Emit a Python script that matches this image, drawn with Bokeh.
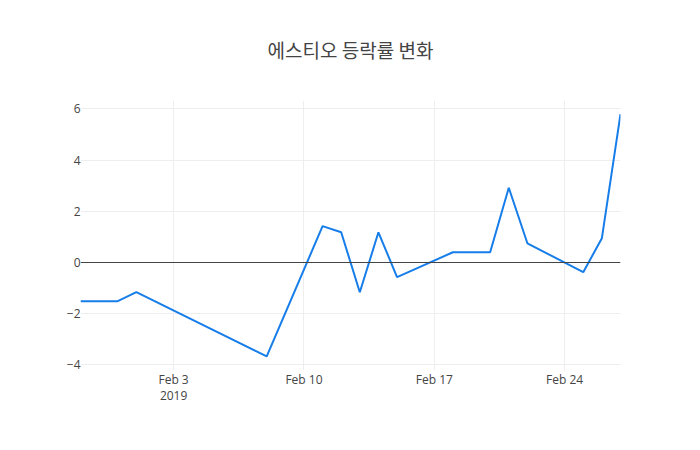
from datetime import datetime
from bokeh.models import FixedTicker, Span, Range1d
from bokeh.plotting import figure
from bokeh.embed import file_html
from bokeh.resources import INLINE

# 에스티오 daily change (%)
dates = ["2019-01-29", "2019-01-31", "2019-02-01", "2019-02-08", "2019-02-11",
         "2019-02-12", "2019-02-13", "2019-02-14", "2019-02-15", "2019-02-18",
         "2019-02-20", "2019-02-21", "2019-02-22", "2019-02-25", "2019-02-26",
         "2019-02-27"]
change = [-1.51, -1.51, -1.16, -3.67, 1.42, 1.18, -1.16, 1.18, -0.57, 0.40,
          0.40, 2.92, 0.75, -0.38, 0.95, 5.80]
x_ticks = ["2019-02-03", "2019-02-10", "2019-02-17", "2019-02-24"]
x_labels = ["Feb 3\n2019", "Feb 10", "Feb 17", "Feb 24"]
y_ticks = [-4, -2, 0, 2, 4, 6]
y_labels = ["\u22124", "\u22122", "0", "2", "4", "6"]

def ms(s):
    return datetime.strptime(s, "%Y-%m-%d").timestamp() * 1000

xs = [datetime.strptime(d, "%Y-%m-%d") for d in dates]

p = figure(width=684, height=434, x_axis_type="datetime", output_backend="svg",
           toolbar_location=None, tools="",
           x_range=Range1d(ms(dates[0]), ms(dates[-1])),
           y_range=Range1d(-4.22, 6.33),
           min_border_left=80, min_border_right=64, min_border_bottom=64,
           min_border_top=100)
p.outline_line_color = None
p.background_fill_color = "white"
p.border_fill_color = "white"

p.title.text = "에스티오 등락률 변화"
p.title.text_font = "Noto Sans CJK KR"
p.title.text_font_size = "19px"
p.title.text_font_style = "normal"
p.title.text_color = "#444444"
p.title.align = "center"
p.title.vertical_align = "top"
p.title.standoff = 71

for ax in (p.xaxis, p.yaxis):
    ax.axis_line_color = None
    ax.major_tick_line_color = None
    ax.minor_tick_line_color = None
    ax.major_tick_out = 0
    ax.major_tick_in = 0
    ax.major_label_text_font = "Open Sans"
    ax.major_label_text_font_size = "12px"
    ax.major_label_text_color = "#444444"

p.xaxis.ticker = FixedTicker(ticks=[ms(t) for t in x_ticks])
p.xaxis.major_label_overrides = {ms(t): l for t, l in zip(x_ticks, x_labels)}
p.xaxis.major_label_standoff = 0
p.xaxis.major_label_text_line_height = 0.95
p.yaxis.ticker = FixedTicker(ticks=y_ticks)
p.yaxis.major_label_overrides = {t: l for t, l in zip(y_ticks, y_labels)}
p.yaxis.major_label_standoff = 0

p.xgrid.grid_line_color = "#eeeeee"
p.ygrid.grid_line_color = "#eeeeee"

p.add_layout(Span(location=0, dimension="width", line_color="#444444", line_width=1))

p.line(xs, change, line_color="#167de9", line_width=2)

open("out.html", "w").write(file_html(p, INLINE))
